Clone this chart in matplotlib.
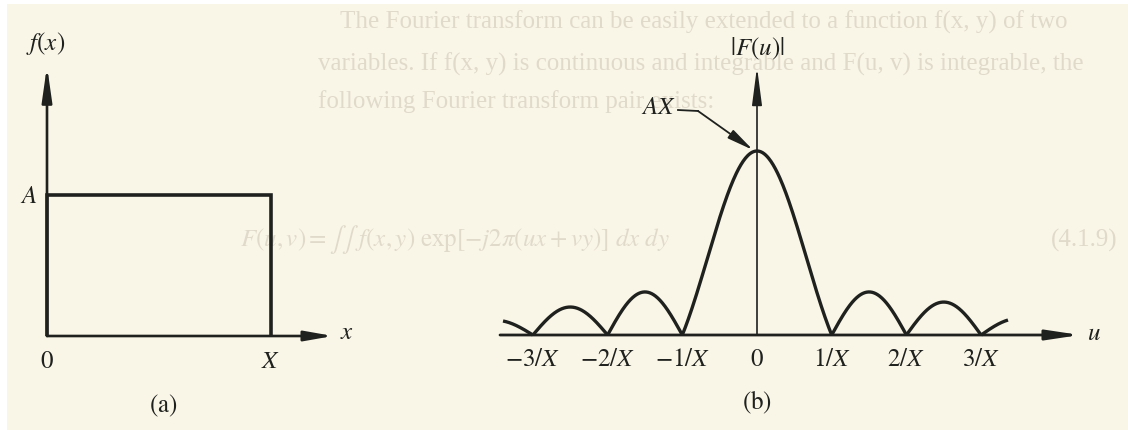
import numpy as np
import matplotlib
matplotlib.use("Agg")
import matplotlib.pyplot as plt
from matplotlib.patches import Rectangle

plt.rcParams['mathtext.fontset'] = 'stix'
plt.rcParams['font.family'] = ['Liberation Serif', 'DejaVu Serif']

# ---------------- data ----------------
# panel (a): rectangle pulse f(x)
rect_x = [0.0, 0.0, 1.0, 1.0]          # 0 -> X
rect_y = [0.0, 1.0, 1.0, 0.0]          # 0 -> A
a_ticks = [0.0, 1.0]
a_tick_labels = [r'$0$', r'$X$']

# panel (b): |F(u)| lobes
lobe_edges = [-3.40, -3.0, -2.0, -1.0, 1.0, 2.0, 3.0, 3.36]
lobe_peaks = [0.08, 0.152, 0.234, 1.0, 0.234, 0.179, 0.09]
b_ticks = [-3, -2, -1, 0, 1, 2, 3]
b_tick_labels = [r'$-3/X$', r'$-2/X$', r'$-1/X$', r'$0$', r'$1/X$', r'$2/X$', r'$3/X$']

# ---------------- figure ----------------
W, H = 1128, 431
fig = plt.figure(figsize=(W / 100, H / 100), dpi=100)
fig.patch.set_facecolor('white')
fig.patches.append(Rectangle((7 / W, 0), 1 - 7 / W, 1 - 5 / H, transform=fig.transFigure,
                             facecolor='#faf6e7', edgecolor='none', zorder=-3))

# faint show-through text of the page
bleed = '#e0dacb'
fig.text(340 / W, 1 - 22 / H, 'The Fourier transform can be easily extended to a function f(x, y) of two',
         fontsize=18, color=bleed, va='center', ha='left', zorder=-1)
fig.text(318 / W, 1 - 64 / H, 'variables. If f(x, y) is continuous and integrable and F(u, v) is integrable, the',
         fontsize=18, color=bleed, va='center', ha='left', zorder=-1)
fig.text(318 / W, 1 - 102 / H, 'following Fourier transform pair exists:',
         fontsize=18, color=bleed, va='center', ha='left', zorder=-1)
fig.text(240 / W, 1 - 240 / H,
         r'$F(u, v) = \int\int\ f(x, y)\ \exp[-j2\pi(ux + vy)]\ dx\ dy$',
         fontsize=18, color=bleed, va='center', ha='left', zorder=-1)
fig.text(1118 / W, 1 - 240 / H, '(4.1.9)', fontsize=18, color=bleed, va='center', ha='right', zorder=-1)

ink = '#1f211f'

# ---------------- panel (a) ----------------
axa = fig.add_axes([0, 0, 380 / W, 1])
axa.set_xlim((0 - 47) / 224, (380 - 47) / 224)
axa.set_ylim((337 - 431) / 141, 337 / 141)
axa.axis('off')
axa.patch.set_alpha(0)

arrow_kw = dict(arrowstyle='-|>,head_length=2.1,head_width=0.3', color=ink, lw=1.9,
                shrinkA=0, shrinkB=0, mutation_scale=10)
axa.annotate('', xy=(0, (337 - 67) / 141), xytext=(0, 0), arrowprops=arrow_kw)
axa.annotate('', xy=((333 - 47) / 224, 0), xytext=(0, 0),
             arrowprops=dict(arrow_kw, arrowstyle='-|>,head_length=1.7,head_width=0.3'))
axa.plot(rect_x, rect_y, color=ink, lw=2.6, solid_joinstyle='miter', solid_capstyle='butt')

for xv, lab in zip(a_ticks, a_tick_labels):
    axa.text(xv, -0.177, lab, fontsize=18, ha='center', va='center', color=ink)
axa.text(-0.005, 2.085, r'$f(x)$', fontsize=18, ha='center', va='center', color=ink)
axa.text(-0.045, 0.99, r'$A$', fontsize=18, ha='right', va='center', color=ink)
axa.text(1.31, 0.03, r'$x$', fontsize=18, ha='left', va='center', color=ink)
axa.text(0.518, -0.485, r'$\mathrm{(a)}$', fontsize=18, ha='center', va='center', color=ink)

# ---------------- panel (b) ----------------
sx, sy = 74.7, 184.0
axb = fig.add_axes([380 / W, 0, 748 / W, 1])
axb.set_xlim((380 - 757) / sx, (1128 - 757) / sx)
axb.set_ylim((336 - 431) / sy, 336 / sy)
axb.axis('off')
axb.patch.set_alpha(0)

axb.annotate('', xy=(0, (336 - 68) / sy), xytext=(0, 0),
             arrowprops=dict(arrow_kw, lw=1.2, arrowstyle='-|>,head_length=2.3,head_width=0.3'))
axb.annotate('', xy=((1080 - 757) / sx, 0), xytext=((500 - 757) / sx, 0),
             arrowprops=dict(arrow_kw, lw=2.0, arrowstyle='-|>,head_length=2.0,head_width=0.3'))

for i, pk in enumerate(lobe_peaks):
    lo, hi = lobe_edges[i], lobe_edges[i + 1]
    u = np.linspace(lo, hi, 200)
    if lo < 0 < hi:
        v = pk * np.sinc(u)
    else:
        v = pk * np.abs(np.sin(np.pi * u))
    axb.plot(u, v, color=ink, lw=2.4, solid_capstyle='butt')

for tv, lab in zip(b_ticks, b_tick_labels):
    axb.text(tv, -0.13, lab, fontsize=18, ha='center', va='center', color=ink)

axb.text(0, 1.56, r'$|F(u)|$', fontsize=18, ha='center', va='center', color=ink)
axb.text((1087 - 757) / sx, 0.01, r'$u$', fontsize=18, ha='left', va='center', color=ink)
axb.text(0, -0.36, r'$\mathrm{(b)}$', fontsize=18, ha='center', va='center', color=ink)

# AX pointer
axb.text((676 - 757) / sx, (336 - 108) / sy, r'$AX$', fontsize=18, ha='right', va='center', color=ink)
axb.plot([(678 - 757) / sx, (698 - 757) / sx], [(336 - 111) / sy, (336 - 112) / sy], color=ink, lw=1.3)
axb.annotate('', xy=((753 - 757) / sx, (336 - 151) / sy), xytext=((698 - 757) / sx, (336 - 112) / sy),
             arrowprops=dict(arrowstyle='-|>,head_length=1.6,head_width=0.3', color=ink, lw=1.3,
                             shrinkA=0, shrinkB=0, mutation_scale=10))

fig.savefig('out.png', dpi=100)
